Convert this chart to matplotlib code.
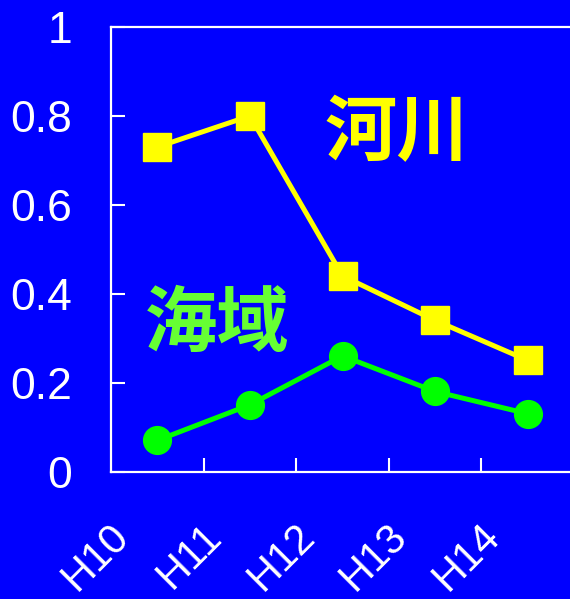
import matplotlib
matplotlib.use("Agg")
import matplotlib.pyplot as plt
from matplotlib.transforms import ScaledTranslation

# Survey years and the two series
years = ["H10", "H11", "H12", "H13", "H14"]
river = [0.73, 0.80, 0.44, 0.34, 0.25]
sea = [0.07, 0.15, 0.26, 0.18, 0.13]
y_ticks = [0, 0.2, 0.4, 0.6, 0.8, 1]
y_tick_labels = ["0", "0.2", "0.4", "0.6", "0.8", "1"]

BLUE = "#0000FF"
YELLOW = "#FFFF00"
GREEN = "#00FF00"
LABEL_GREEN = "#66FF33"

fig = plt.figure(figsize=(5.70, 5.99), dpi=100, facecolor=BLUE)
ax = fig.add_axes([111 / 570, 1 - 471.5 / 599, 463 / 570, 444.5 / 599])
ax.set_facecolor(BLUE)

x = list(range(len(years)))
ax.plot(x, river, color=YELLOW, lw=3.6, marker="s", ms=20, mec=YELLOW,
        mfc=YELLOW, clip_on=False, zorder=3)
ax.plot(x, sea, color=GREEN, lw=3.6, marker="o", ms=20, mec=GREEN,
        mfc=GREEN, clip_on=False, zorder=3)

ax.set_xlim(-0.5, 4.5)
ax.set_ylim(0, 1)

for side in ("top", "left", "bottom"):
    ax.spines[side].set_color("white")
    ax.spines[side].set_linewidth(1.6)
ax.spines["right"].set_visible(False)

# Y axis
ax.set_yticks(y_ticks)
ax.set_yticklabels(y_tick_labels, fontsize=32, color="white",
                   fontfamily="Liberation Sans")
ax.tick_params(axis="y", direction="in", length=10, width=1.5,
               color="white", pad=28)

# X axis: ticks sit between categories, labels are slanted
ax.set_xticks([i + 0.5 for i in x[:-1]])
ax.set_xticklabels([])
ax.set_xticks(x, minor=True)
ax.set_xticklabels(years, minor=True, fontsize=30, color="white",
                   fontfamily="Liberation Sans", rotation=45,
                   ha="right", va="top")
ax.tick_params(axis="x", which="major", direction="in", length=10,
               width=1.5, color="white")
ax.tick_params(axis="x", which="minor", length=0, pad=32)
shift = ScaledTranslation(-20 / 100, 0, fig.dpi_scale_trans)
for lbl in ax.get_xticklabels(minor=True):
    lbl.set_transform(lbl.get_transform() + shift)

# Series names
cjk = ["Noto Sans CJK JP", "DejaVu Sans"]
ax.text(2.59, 0.76, "河川", color=YELLOW, fontsize=52, family=cjk,
        fontweight="semibold", ha="center", va="center")
ax.text(0.645, 0.33, "海域", color=LABEL_GREEN, fontsize=52, family=cjk,
        fontweight="semibold", ha="center", va="center")

fig.savefig("out.png", dpi=100, facecolor=BLUE)
